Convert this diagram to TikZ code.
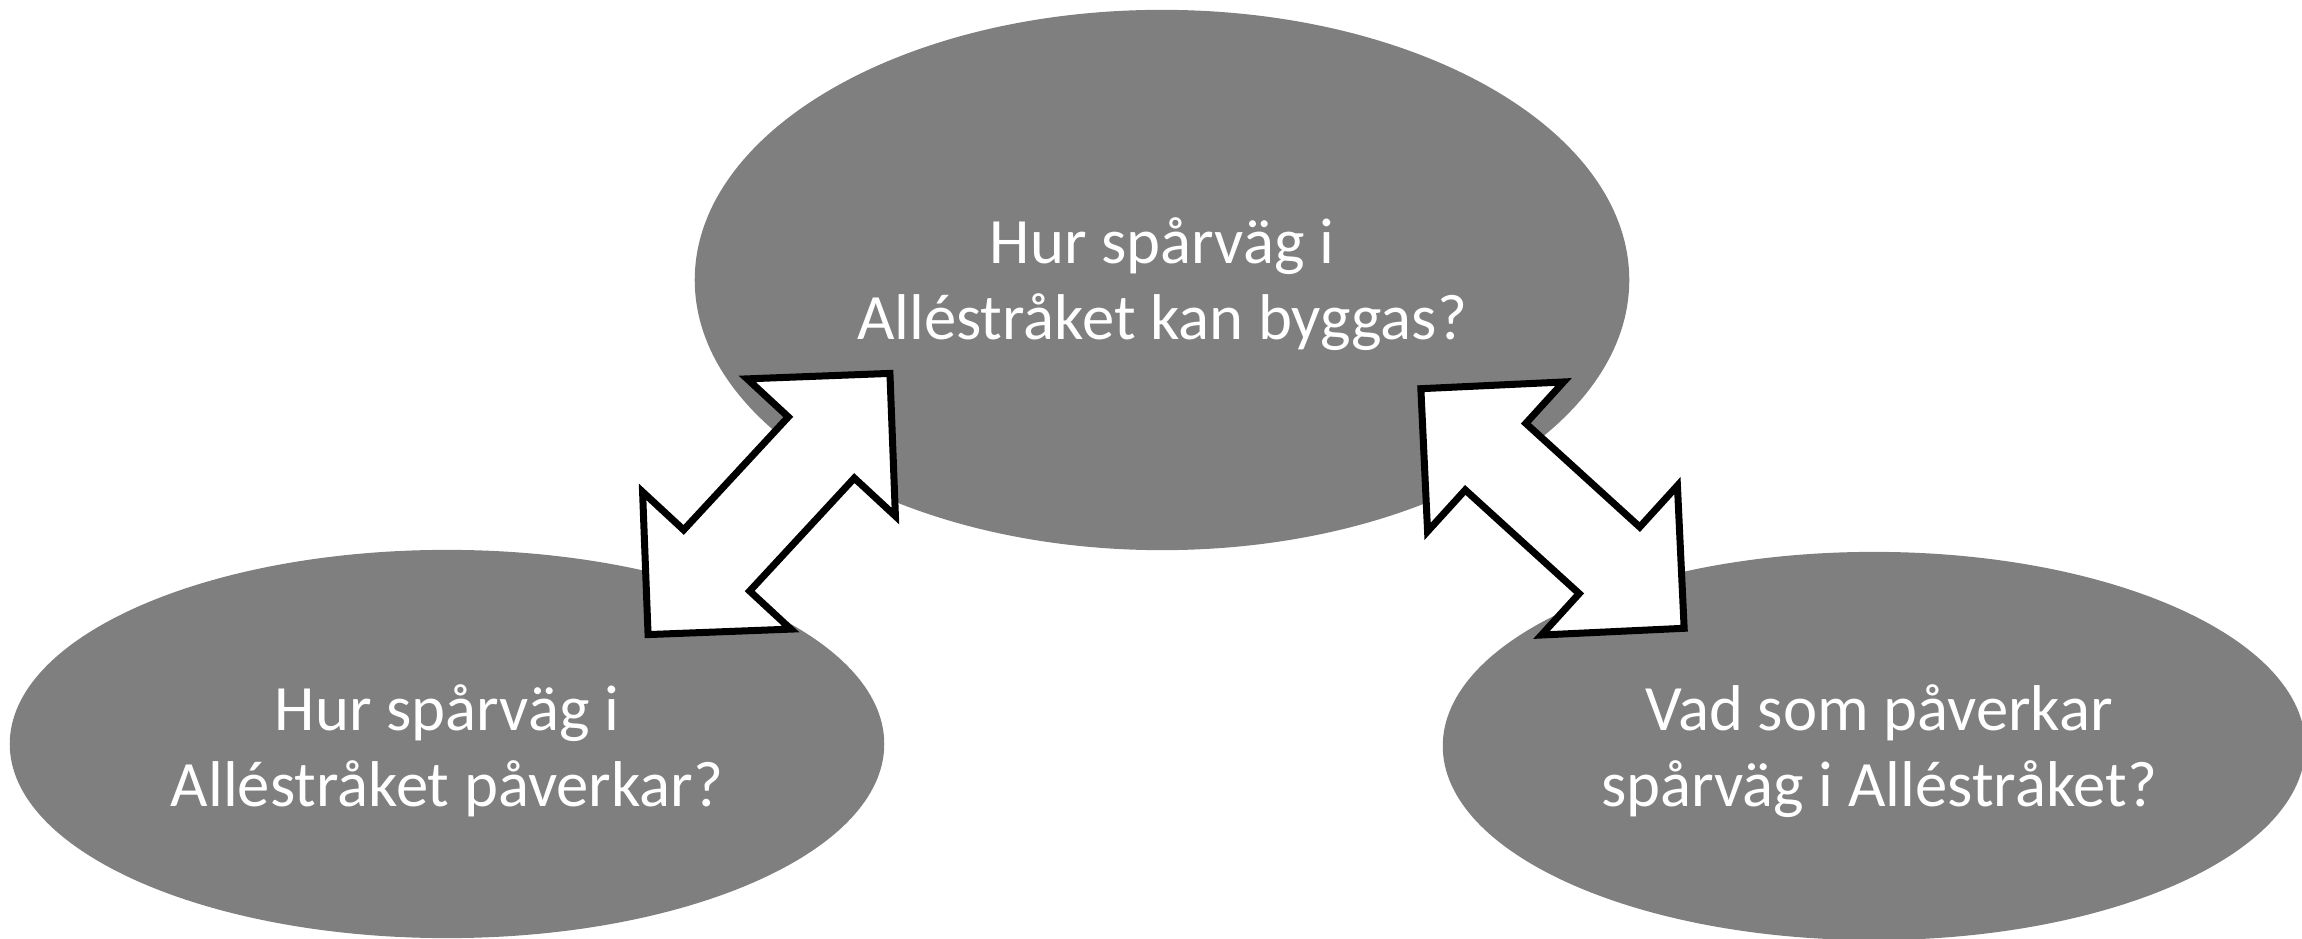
\documentclass[tikz,border=0pt]{standalone}
\usepackage{fontspec}
\setmainfont{Carlito}
\usetikzlibrary{shapes.geometric}
\definecolor{bubble}{RGB}{127,127,127}
\tikzset{
  bubble/.style={ellipse, fill=bubble, draw=none, inner sep=0pt},
  label/.style={text=white, align=center, inner sep=0pt, font=\fontsize{18.4pt}{21.6pt}\selectfont},
  blockarrow/.style={draw=black, fill=white, line width=0.07cm, line join=miter}
}
\begin{document}
\begin{tikzpicture}[x=0.01cm, y=0.01cm]
\useasboundingbox (0,0) rectangle (2302,939);
% ellipses
\node[bubble, minimum width=9.34cm, minimum height=5.40cm] (top) at (1162,659) {};
\node[bubble, minimum width=8.74cm, minimum height=3.88cm] (left) at (447,195) {};
\node[bubble, minimum width=8.62cm, minimum height=3.88cm] (right) at (1874,193) {};
% block arrows
\begin{scope}[shift={(769,435)}, rotate=47.2]
  \draw[blockarrow] (178,0) -- (77,101) -- (77,45) -- (-77,45) -- (-77,101) -- (-178,0)
    -- (-77,-101) -- (-77,-45) -- (77,-45) -- (77,-101) -- cycle;
\end{scope}
\begin{scope}[shift={(1552.5,430.5)}, rotate=-42.3]
  \draw[blockarrow] (178,0) -- (77,101) -- (77,45) -- (-77,45) -- (-77,101) -- (-178,0)
    -- (-77,-101) -- (-77,-45) -- (77,-45) -- (77,-101) -- cycle;
\end{scope}
% texts
\node[label] (ttop) at (1162,654.5) {Hur spårväg i\\Alléstråket kan byggas?};
\node[label] (tleft) at (447,188.5) {Hur spårväg i\\Alléstråket påverkar?};
\node[label] (tright) at (1879,187.5) {Vad som påverkar\\spårväg i Alléstråket?};
\end{tikzpicture}
\end{document}
